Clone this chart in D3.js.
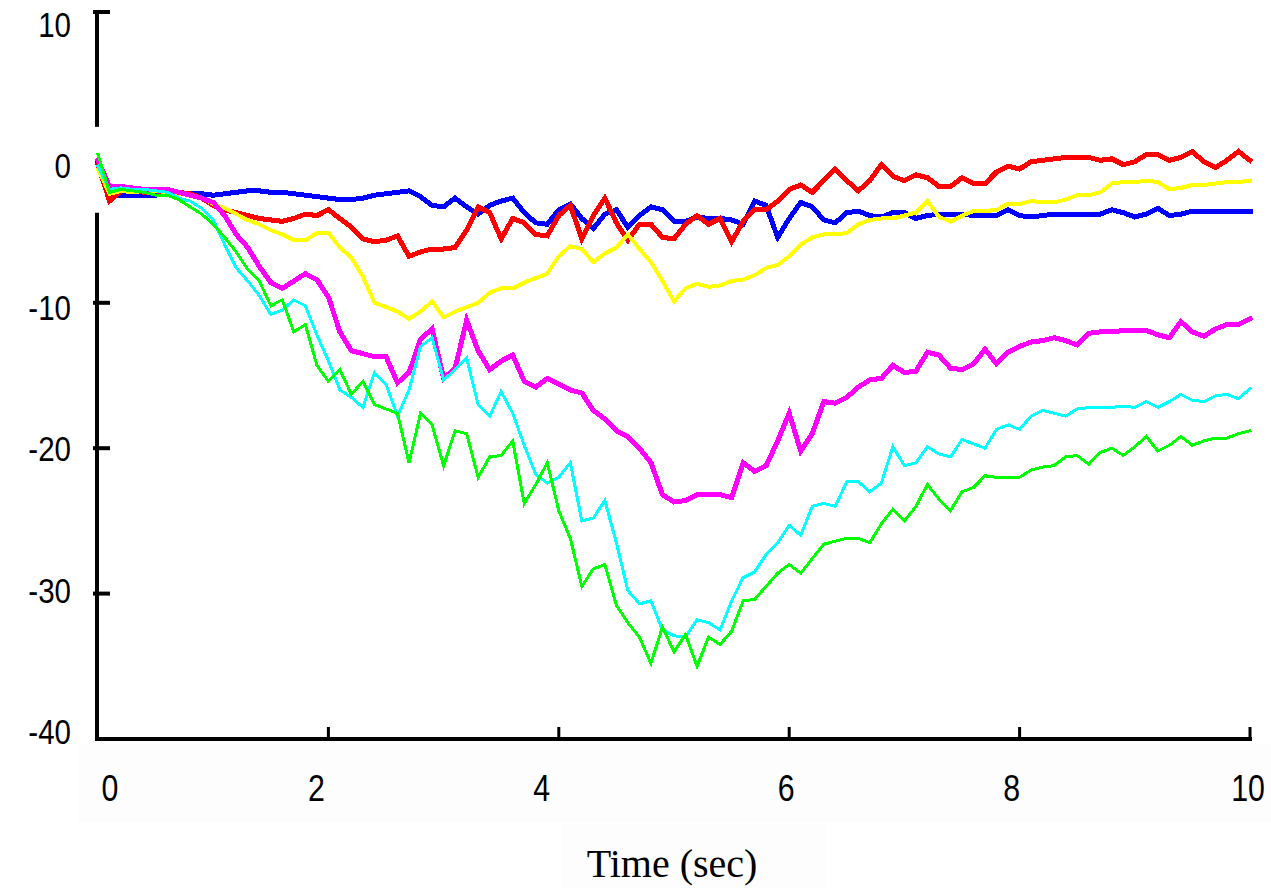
<!DOCTYPE html>
<html>
<head>
<meta charset="utf-8">
<script src="https://cdn.jsdelivr.net/npm/d3@7"></script>
<style>
  html, body { margin: 0; padding: 0; background: #ffffff; }
  svg { display: block; }
</style>
</head>
<body>
<svg id="chart" width="1271" height="888"></svg>
<script>
// ---------------- DATA ----------------
const time = d3.range(0, 101).map(i => +(i * 0.1).toFixed(1));

const xTicks = [0, 2, 4, 6, 8, 10];
const yTicks = [10, 0, -10, -20, -30, -40];
const xTickLabels = ["0", "2", "4", "6", "8", "10"];
const yTickLabels = ["10", "0", "-10", "-20", "-30", "-40"];
const xTitle = "Time (sec)";

const blue = [
 -0.4,-2.6,-2.6,-2.6,-2.6,-2.6,-2.5,-2.5,-2.5,-2.5,
 -2.6,-2.5,-2.4,-2.3,-2.3,-2.4,-2.4,-2.5,-2.6,-2.7,
 -2.8,-2.9,-2.9,-2.8,-2.6,-2.5,-2.4,-2.3,-2.7,-3.3,
 -3.4,-2.8,-3.4,-3.9,-3.3,-3.0,-2.8,-3.8,-4.5,-4.6,
 -3.6,-3.2,-4.2,-4.9,-3.9,-3.6,-4.8,-4.0,-3.4,-3.6,
 -4.4,-4.4,-4.1,-4.2,-4.2,-4.3,-4.6,-3.0,-3.3,-5.5,
 -4.2,-3.1,-3.4,-4.3,-4.5,-3.8,-3.7,-4.0,-4.1,-3.8,
 -3.8,-4.2,-4.0,-3.9,-3.9,-3.9,-4.0,-4.0,-4.0,-3.6,
 -4.0,-4.1,-4.0,-3.9,-3.9,-3.9,-3.9,-3.9,-3.6,-3.8,
 -4.1,-3.9,-3.5,-4.0,-3.9,-3.7,-3.7,-3.7,-3.7,-3.7,
 -3.7];

const red = [
 -0.5,-3.0,-2.3,-2.3,-2.4,-2.3,-2.4,-2.4,-2.5,-2.8,
 -3.3,-3.6,-3.8,-4.0,-4.2,-4.3,-4.4,-4.2,-3.9,-4.0,
 -3.6,-4.2,-4.8,-5.6,-5.8,-5.7,-5.4,-6.8,-6.5,-6.3,
 -6.3,-6.2,-5.0,-3.4,-3.8,-5.6,-4.2,-4.5,-5.3,-5.4,
 -4.0,-3.3,-5.6,-4.0,-2.8,-4.5,-5.7,-4.6,-4.6,-5.5,
 -5.6,-4.6,-4.0,-4.6,-4.2,-5.8,-4.4,-3.6,-3.6,-3.0,
 -2.2,-1.9,-2.4,-1.6,-0.8,-1.6,-2.3,-1.6,-0.5,-1.3,
 -1.6,-1.2,-1.4,-2.0,-2.0,-1.4,-1.8,-1.8,-1.0,-0.6,
 -0.8,-0.3,-0.2,-0.1,0.0,0.0,0.0,-0.2,-0.1,-0.5,
 -0.3,0.2,0.2,-0.2,0.0,0.4,-0.3,-0.7,-0.2,0.4,
 -0.2];

const yellow = [
 -0.8,-2.5,-2.3,-2.4,-2.3,-2.3,-2.4,-2.5,-2.6,-2.8,
 -3.2,-3.5,-3.9,-4.3,-4.6,-5.0,-5.3,-5.7,-5.7,-5.2,
 -5.2,-6.2,-6.9,-8.2,-10.0,-10.3,-10.6,-11.1,-10.6,-9.9,
 -11.0,-10.6,-10.3,-10.0,-9.3,-9.0,-9.0,-8.6,-8.3,-8.0,
 -6.8,-6.1,-6.3,-7.2,-6.6,-6.2,-5.3,-6.3,-7.2,-8.5,
 -9.9,-9.0,-8.7,-8.9,-8.8,-8.5,-8.4,-8.1,-7.6,-7.4,
 -6.8,-6.0,-5.5,-5.3,-5.3,-5.2,-4.6,-4.3,-4.2,-4.2,
 -4.0,-3.8,-3.0,-4.1,-4.4,-4.0,-3.7,-3.7,-3.6,-3.2,
 -3.2,-3.0,-3.1,-3.1,-2.9,-2.6,-2.6,-2.4,-1.8,-1.7,
 -1.7,-1.6,-1.7,-2.2,-2.1,-1.9,-1.9,-1.8,-1.7,-1.7,
 -1.6];

const magenta = [
 -0.2,-2.0,-2.0,-2.1,-2.2,-2.2,-2.2,-2.4,-2.6,-2.8,
 -3.1,-4.0,-5.3,-6.2,-7.5,-8.6,-9.0,-8.5,-8.0,-8.4,
 -9.6,-12.0,-13.3,-13.5,-13.7,-13.7,-15.5,-14.8,-12.5,-11.8,
 -15.2,-14.5,-11.2,-13.3,-14.6,-14.0,-13.6,-15.4,-15.8,-15.2,
 -15.6,-16.0,-16.2,-17.4,-18.0,-18.8,-19.2,-20.0,-21.0,-23.2,
 -23.7,-23.6,-23.2,-23.2,-23.2,-23.4,-21.0,-21.6,-21.2,-19.5,
 -17.6,-20.2,-19.0,-16.8,-16.9,-16.5,-15.8,-15.3,-15.2,-14.3,
 -14.8,-14.7,-13.4,-13.6,-14.5,-14.6,-14.2,-13.2,-14.2,-13.4,
 -13.0,-12.7,-12.6,-12.4,-12.6,-12.9,-12.1,-12.0,-12.0,-11.9,
 -11.9,-11.9,-12.2,-12.4,-11.3,-12.0,-12.3,-11.8,-11.5,-11.5,
 -11.1];

const cyan = [
 -0.6,-2.2,-2.1,-2.2,-2.2,-2.3,-2.4,-2.8,-3.0,-3.5,
 -4.3,-6.0,-7.6,-8.5,-9.5,-10.8,-10.5,-9.8,-10.2,-12.2,
 -14.0,-16.0,-16.5,-17.2,-14.8,-15.6,-17.8,-16.0,-13.0,-12.4,
 -15.3,-14.6,-13.8,-17.0,-17.8,-16.1,-17.6,-19.8,-21.8,-22.4,
 -22.0,-21.0,-25.0,-24.8,-23.6,-26.5,-29.8,-30.7,-30.5,-32.5,
 -32.9,-33.0,-31.8,-32.0,-32.5,-30.5,-28.9,-28.5,-27.3,-26.5,
 -25.3,-26.0,-24.0,-23.8,-24.0,-22.3,-22.3,-23.0,-22.4,-19.9,
 -21.2,-21.0,-19.9,-20.4,-20.6,-19.4,-19.7,-20.0,-18.7,-18.4,
 -18.7,-17.8,-17.4,-17.6,-17.8,-17.3,-17.2,-17.2,-17.2,-17.1,
 -17.2,-16.8,-17.2,-16.8,-16.3,-16.7,-16.8,-16.4,-16.3,-16.6,
 -15.9];

const green = [
 0.2,-2.4,-2.2,-2.3,-2.4,-2.6,-2.6,-2.9,-3.4,-3.9,
 -4.6,-5.5,-6.5,-7.7,-8.5,-10.2,-9.8,-12.0,-11.5,-14.3,
 -15.4,-14.6,-16.3,-15.4,-17.0,-17.3,-17.6,-21.0,-17.6,-18.4,
 -21.2,-18.8,-19.0,-22.0,-20.6,-20.5,-19.5,-23.8,-22.5,-21.0,
 -24.3,-26.2,-29.5,-28.3,-28.0,-30.8,-32.0,-33.0,-34.8,-32.3,
 -34.0,-32.8,-35.0,-33.0,-33.5,-32.6,-30.5,-30.4,-29.5,-28.6,
 -28.0,-28.6,-27.6,-26.6,-26.4,-26.2,-26.2,-26.5,-25.2,-24.2,
 -25.0,-24.0,-22.5,-23.5,-24.3,-23.0,-22.7,-21.9,-22.0,-22.0,
 -22.0,-21.5,-21.3,-21.2,-20.6,-20.5,-21.1,-20.3,-20.0,-20.5,
 -19.9,-19.2,-20.2,-19.8,-19.2,-19.8,-19.5,-19.3,-19.3,-19.0,
 -18.8];

const seriesNames = ["blue", "red", "yellow", "magenta", "cyan", "green"];
const seriesValues = [blue, red, yellow, magenta, cyan, green];

// ---------------- STYLE ----------------
const colors = {blue: "#0000ff", red: "#ff0000", yellow: "#ffff00",
                magenta: "#ff00ff", cyan: "#00ffff", green: "#00ff00"};
const widths = {blue: 5, red: 5, yellow: 4, magenta: 5, cyan: 3, green: 3};

const svg = d3.select("#chart");

// faint label backgrounds seen in the picture
svg.append("rect").attr("x", 78).attr("y", 744).attr("width", 1193).attr("height", 78).attr("fill", "#fdfdfd");
svg.append("rect").attr("x", 561).attr("y", 824).attr("width", 266).attr("height", 64).attr("fill", "#fdfdfd");

const x = d3.scaleLinear().domain([0, 10]).range([98, 1250]);
const y = d3.scaleLinear().domain([-40, 10]).range([739, 12]);
const yLabel = d3.scaleLinear().domain([-40, 10]).range([744, 37]);
const xLabelNudge = {0: 12, 2: -12, 4: -17, 6: -3, 8: -8, 10: -2};

// ---------------- SERIES ----------------
const line = d3.line().x((d, i) => x(time[i])).y(d => y(d));
const gLines = svg.append("g");
seriesNames.forEach((name, k) => {
  gLines.append("path")
    .datum(seriesValues[k])
    .attr("d", line)
    .attr("fill", "none")
    .attr("stroke", colors[name])
    .attr("stroke-width", widths[name])
    .attr("stroke-linejoin", "miter")
    .attr("stroke-linecap", "square")
    .attr("shape-rendering", "crispEdges");
});

// ---------------- AXES ----------------
const axisG = svg.append("g");
const gap = [2.1, -3.8];
axisG.append("line").attr("x1", 97).attr("x2", 97).attr("y1", y(10)).attr("y2", y(gap[0]))
  .attr("stroke", "#000").attr("stroke-width", 4);
axisG.append("line").attr("x1", 97).attr("x2", 97).attr("y1", y(gap[1])).attr("y2", y(-40) + 2)
  .attr("stroke", "#000").attr("stroke-width", 4);
axisG.append("line").attr("x1", 95).attr("x2", x(10) + 2).attr("y1", y(-40)).attr("y2", y(-40))
  .attr("stroke", "#000").attr("stroke-width", 4);

axisG.selectAll(".ytick").data(yTicks.filter(v => v !== 0 && v !== -40)).enter()
  .append("line")
  .attr("x1", 93).attr("x2", 110)
  .attr("y1", d => y(d)).attr("y2", d => y(d))
  .attr("stroke", "#000").attr("stroke-width", 4);

axisG.selectAll(".xtick").data(xTicks.filter(v => v !== 0)).enter()
  .append("line")
  .attr("x1", d => x(d)).attr("x2", d => x(d))
  .attr("y1", y(-40)).attr("y2", y(-40) - 12)
  .attr("stroke", "#000").attr("stroke-width", 3);

const labelFont = "'Liberation Sans', Arial, sans-serif";
const narrow = 0.82;

axisG.selectAll(".ylab").data(yTicks).enter()
  .append("text")
  .attr("transform", d => `translate(71,${yLabel(d)}) scale(${narrow},1)`)
  .attr("text-anchor", "end")
  .attr("font-family", labelFont)
  .attr("font-size", 36)
  .attr("fill", "#000")
  .text((d, i) => yTickLabels[i]);

axisG.selectAll(".xlab").data(xTicks).enter()
  .append("text")
  .attr("transform", d => `translate(${x(d) + xLabelNudge[d]},801) scale(${narrow},1)`)
  .attr("text-anchor", "middle")
  .attr("font-family", labelFont)
  .attr("font-size", 37)
  .attr("fill", "#000")
  .text((d, i) => xTickLabels[i]);

svg.append("text")
  .attr("x", 672).attr("y", 877)
  .attr("text-anchor", "middle")
  .attr("font-family", "'Liberation Serif', 'Times New Roman', serif")
  .attr("font-size", 40)
  .attr("fill", "#000")
  .text(xTitle);
</script>
</body>
</html>
